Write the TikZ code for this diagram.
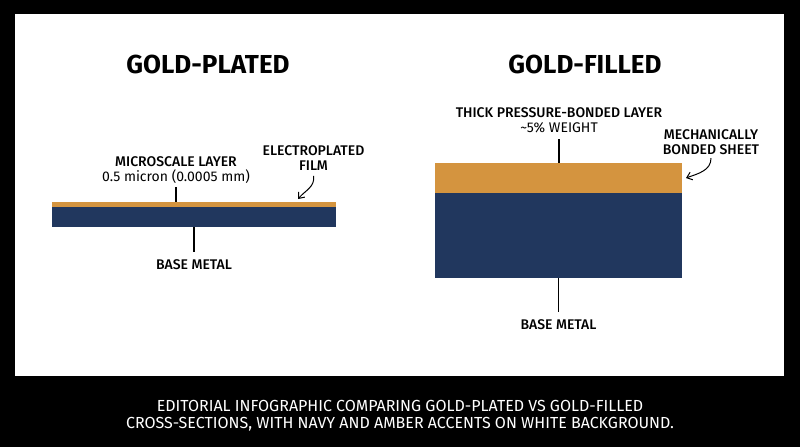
\documentclass[tikz,border=0pt]{standalone}
\usepackage{xcolor}
\usepackage{fontspec}
\setmainfont{Fira Sans}
\newfontfamily\medfont{Fira Sans Medium}
\usepackage{tikz}
\usetikzlibrary{arrows.meta, positioning, calc}

\definecolor{amber}{HTML}{D4943F}
\definecolor{navy}{HTML}{21375E}

\begin{document}
\begin{tikzpicture}[x=1pt,y=-1pt,>={Straight Barb[length=5pt,width=8pt]},
		line width=1.1pt,
		gold layer/.style={fill=amber,draw=none,inner sep=0pt,outer sep=0pt},
		navy layer/.style={fill=navy,draw=none,inner sep=0pt,outer sep=0pt},
		head/.style={font=\fontsize{26}{29}\selectfont\bfseries,inner sep=0pt},
		lbl/.style={font=\fontsize{14}{15}\selectfont,align=center,inner sep=0pt},
		lead/.style={draw=black,shorten <=3pt},
		pointer/.style={->,draw=black,line width=1pt}]
		
		% frame
		\fill[black] (0,0) rectangle (800,447);
		\fill[white] (15,14) rectangle (784,376);
		\useasboundingbox (0,0) rectangle (800,447);
		
		% gold-plated
		\node[head,anchor=north] (ptitle) at (208,54) {GOLD-PLATED};
		\node[gold layer,minimum width=284pt,minimum height=5pt,anchor=north west] (pfilm) at (52,202) {};
		\node[navy layer,minimum width=284pt,minimum height=20pt,below=0pt of pfilm] (pbase) {};
		\coordinate (ptap) at (176,202);
		\node[lbl,anchor=north] (micro) at (176,156) {{\medfont MICROSCALE LAYER}\\0.5 micron (0.0005 mm)};
		\node[lbl,anchor=north] (elec) at (313.5,145) {\medfont ELECTROPLATED\\\medfont FILM};
		\coordinate (ptip) at (298,199);
		\node[lbl,below=32pt of pbase] (pmetal) {\medfont BASE METAL};
		
		\draw[lead] (micro.south) -- (ptap);
		\draw[lead,shorten <=0pt,shorten >=7pt] (pbase.south) -- (pmetal.north);
		\draw[pointer] ([yshift=-5pt]elec.south) to[out=-80,in=50] (ptip);
		
		% gold-filled
		\node[head,anchor=north] (ftitle) at (585,54) {GOLD-FILLED};
		\node[gold layer,minimum width=247pt,minimum height=30pt,anchor=north west] (ffilm) at (435,163) {};
		\node[navy layer,minimum width=247pt,minimum height=85pt,below=0pt of ffilm] (fbase) {};
		\node[lbl,anchor=north] (thick) at (559,107) {{\medfont THICK PRESSURE-BONDED LAYER}\\\textasciitilde5\% WEIGHT};
		\node[lbl,anchor=north] (mech) at (711,129) {\medfont MECHANICALLY\\\medfont BONDED SHEET};
		\coordinate (ftip) at (686,178);
		\node[lbl,below=41pt of fbase] (fmetal) {\medfont BASE METAL};
		
		\draw[lead,shorten <=6pt] (thick.south) -- (thick.south |- ffilm.north);
		\draw[lead,shorten <=0pt,shorten >=7pt] (fbase.south) -- (fmetal.north);
		\draw[pointer] ([yshift=-3pt]mech.south) to[out=-90,in=20] (ftip);
		
		% caption
		\node[lbl,text=white,font=\fontsize{16}{17}\selectfont,anchor=north] (caption) at (400,400)
		{EDITORIAL INFOGRAPHIC COMPARING GOLD-PLATED VS GOLD-FILLED\\CROSS-SECTIONS, WITH NAVY AND AMBER ACCENTS ON WHITE BACKGROUND.};
		
	\end{tikzpicture}
\end{document}
